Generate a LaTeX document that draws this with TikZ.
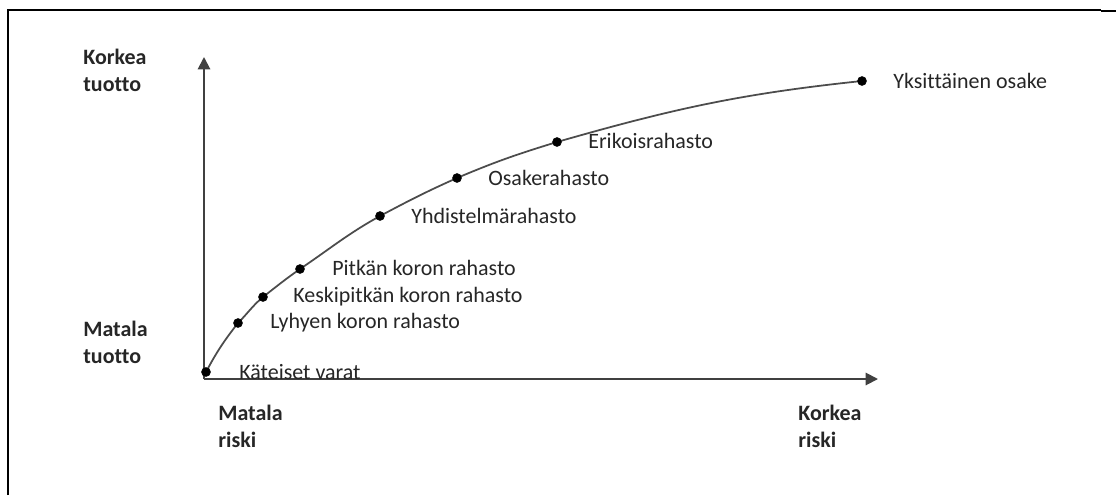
\documentclass[tikz,border=0pt]{standalone}
\usepackage{fontspec}
\setmainfont{Carlito}[Ligatures=NoCommon]
\usetikzlibrary{arrows.meta}

\begin{document}
\begin{tikzpicture}[x=0.02cm,y=0.02cm,
	dot/.style={draw,circle,fill=black,inner sep=0pt,minimum size=5pt},
	lab/.style={anchor=west,inner sep=0pt,font=\fontsize{12.5}{15}\selectfont,text=black!85},
	axlab/.style={anchor=north west,inner sep=0pt,align=left,font=\fontsize{12.5}{15.5}\selectfont\bfseries,text=black!85},
	axis/.style={draw=black!75,line width=1.1pt,-{Triangle[length=7pt,width=7pt]}}]
			\useasboundingbox (0,0) rectangle (1116,495);
			% frame
			\draw[line width=1.2pt] (8,0) -- (8,485);
			\draw[line width=0.6pt] (8,485) -- (1101,485);
			\draw[line width=1.2pt] (7,485) -- (22,485);
			\draw[line width=1.2pt] (1101,484) -- (1116,484);
			% axes
			\coordinate (o) at (204,116);
			\coordinate (ytip) at (204,438);
			\coordinate (xtip) at (878,116);
			\draw[axis] (o) -- (ytip);
			\draw[axis] (o) -- (xtip);
			\node[axlab] (kt) at (83,446) {Korkea\\tuotto};
			\node[axlab] (mt) at (83,174) {Matala\\tuotto};
			\node[axlab] (mr) at (218,90) {Matala\\riski};
			\node[axlab] (kr) at (798,90) {Korkea\\riski};
			% points
			\coordinate (kat) at (206,123);
			\coordinate (lyh) at (238,172);
			\coordinate (kes) at (263,198);
			\coordinate (pit) at (300,226);
			\coordinate (yhd) at (380,279);
			\coordinate (osa) at (457,317);
			\coordinate (eri) at (557,353);
			\coordinate (yks) at (862,414);
			\draw[black!70,line width=1pt] (kat) to[out=62,in=232] (lyh)
				to[out=45,in=220] (kes) to[out=38,in=215] (pit)
				to[out=34,in=209] (yhd) to[out=28,in=204] (osa)
				to[out=23,in=197] (eri) to[out=16,in=186] (yks);
			\node[dot] at (kat) {};
			\node[dot] at (lyh) {};
			\node[dot] at (kes) {};
			\node[dot] at (pit) {};
			\node[dot] at (yhd) {};
			\node[dot] at (osa) {};
			\node[dot] at (eri) {};
			\node[dot] at (yks) {};
			\node[lab] (lkat) at (239,123) {Käteiset varat};
			\node[lab] (llyh) at (270,172) {Lyhyen koron rahasto};
			\node[lab] (lkes) at (293,198) {Keskipitkän koron rahasto};
			\node[lab] (lpit) at (332,227) {Pitkän koron rahasto};
			\node[lab] (lyhd) at (411,279) {Yhdistelmärahasto};
			\node[lab] (losa) at (488,317) {Osakerahasto};
			\node[lab] (leri) at (588,354) {Erikoisrahasto};
			\node[lab] (lyks) at (893,414) {Yksittäinen osake};
\end{tikzpicture}
\end{document}
